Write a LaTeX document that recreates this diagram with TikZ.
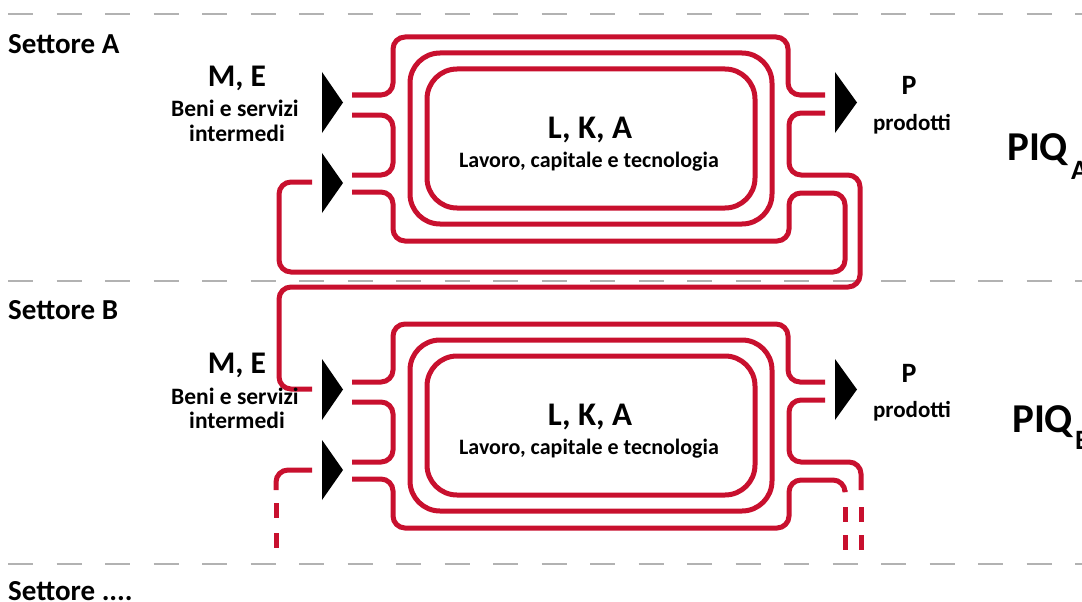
\documentclass[tikz,border=0pt]{standalone}
\usepackage{fontspec}
\setmainfont{Carlito}
\definecolor{pipered}{RGB}{200,16,46}
\definecolor{sepgray}{RGB}{178,178,178}
\newcommand{\fsz}[1]{\fontsize{#1}{#1}\selectfont}
\newcommand{\sectorcore}[1]{%
  % pipe walls
  \draw[wall] (352,95) -- (393,95) -- (393,37) -- (788,37) -- (788,95) -- (825,95);
  \draw[wall] (352,115) -- (393,115) -- (393,175) -- (352,175);
  \draw[box] (410,53) rectangle (772,224);
  \draw[box] (427,69) rectangle (755,208);
  % arrows
  \fill[tri] (322,72) -- (343,102.5) -- (322,133) -- cycle;
  \fill[tri] (322,153) -- (343,183) -- (322,213) -- cycle;
  \fill[tri] (835,72) -- (857,102.5) -- (835,133) -- cycle;
  % labels
  \node[lbl, font=\bfseries\fsz{31.5}] (#1me) at (237,86) {M, E};
  \node[lbl, font=\bfseries\fsz{23.5}] (#1beni) at (235,117) {Beni e servizi};
  \node[lbl, font=\bfseries\fsz{23.5}] (#1int) at (237,141) {intermedi};
  \node[lbl, font=\bfseries\fsz{33}] (#1lka) at (590,138) {L, K, A};
  \node[lbl, font=\bfseries\fsz{22}] (#1lav) at (589,167) {Lavoro, capitale e tecnologia};
  \node[lbl, font=\bfseries\fsz{28}] (#1p) at (909,95) {P};
  \node[lbl, font=\bfseries\fsz{23}] (#1prod) at (912,130) {prodotti};
}
\begin{document}
\begin{tikzpicture}[x=1pt,y=-1pt,
  wall/.style={draw=pipered, line width=5pt, rounded corners=12pt},
  wallseg/.style={draw=pipered, line width=5pt},
  box/.style={draw=pipered, line width=5pt, rounded corners=30pt},
  sep/.style={draw=sepgray, line width=1.8pt, dash pattern=on 25pt off 23.5pt},
  tri/.style={fill=black},
  lbl/.style={inner sep=0pt, anchor=base},
  sect/.style={inner sep=0pt, anchor=base west, font=\bfseries\fsz{29}}
]
\useasboundingbox (0,0) rectangle (1082,602);
% separators
\draw[sep] (8,14) -- (1082,14);
\draw[sep] (8,281) -- (1082,281);
\draw[sep] (8,564) -- (1082,564);
% sector labels
\node[sect] (setA) at (8,54) {Settore A};
\node[sect] (setB) at (8,319) {Settore B};
\node[sect] (setC) at (8,600) {Settore ....};
% sector A
\sectorcore{a}
\draw[wall] (352,192) -- (393,192) -- (393,241) -- (789,241) -- (789,193) -- (845,193) -- (845,272) -- (279,272) -- (279,182) -- (312,182);
\draw[wall] (825,113) -- (789,113) -- (789,175) -- (860,175) -- (860,287) -- (279,287) -- (279,389) -- (312,389);
\node[inner sep=0pt, anchor=base west] (piqA) at (1007,160) {\bfseries\fsz{41}PIQ\hspace{3pt}\raisebox{-19pt}{\fsz{28}A}};
% sector B
\begin{scope}[shift={(0,287)}]
\sectorcore{b}
\end{scope}
\draw[wall] (352,479) -- (393,479) -- (393,528) -- (789,528) -- (789,480) -- (845,480) -- (845,490);
\draw[wallseg] (845,507) -- (845,522) (845,535) -- (845,550);
\draw[wall] (825,400) -- (789,400) -- (789,462) -- (861,462) -- (861,490);
\draw[wallseg] (861,507) -- (861,522) (861,535) -- (861,550);
\draw[wall] (312,470) -- (276,470) -- (276,490);
\draw[wallseg] (276,503) -- (276,518) (276,533) -- (276,548);
\node[inner sep=0pt, anchor=base west] (piqB) at (1012,432) {\bfseries\fsz{41}PIQ\hspace{2pt}\raisebox{-17pt}{\fsz{28}B}};
\end{tikzpicture}
\end{document}
